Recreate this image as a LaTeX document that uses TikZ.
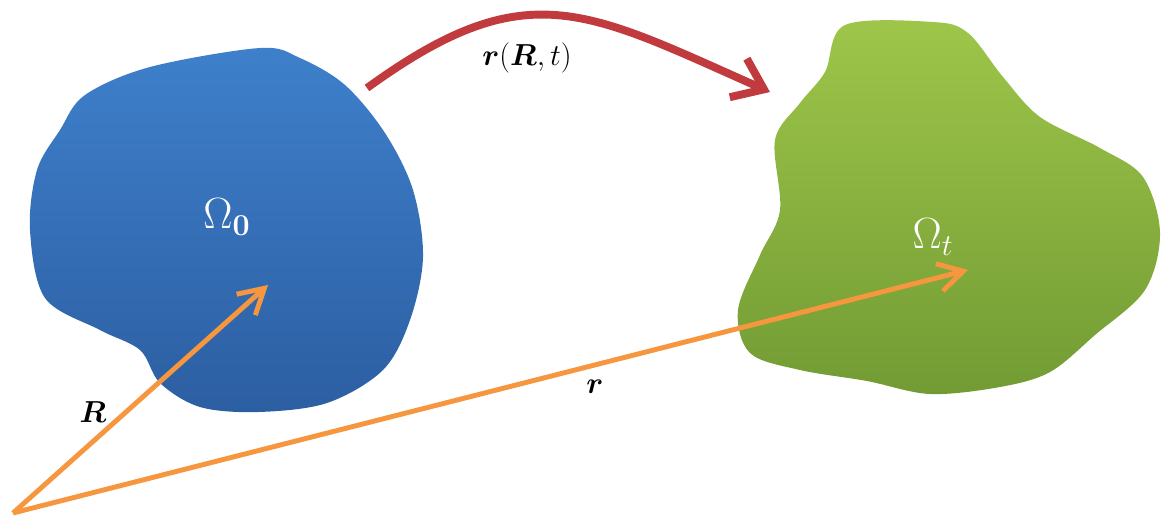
\documentclass[tikz,border=0pt]{standalone}
\usepackage{amsmath,amssymb,bm}
\usepackage{xcolor}
\definecolor{omblue}{RGB}{62,128,203}
\definecolor{omblue2}{RGB}{44,94,162}
\definecolor{omgreen}{RGB}{158,198,74}
\definecolor{omgreen2}{RGB}{114,155,52}
\definecolor{mapred}{RGB}{192,58,62}
\definecolor{vecorange}{RGB}{246,150,62}
\usetikzlibrary{arrows.meta,positioning}

\begin{document}
\begin{tikzpicture}[x=0.02cm,y=-0.02cm,
  vec/.style={-{Straight Barb[length=14pt,width=16pt]},line width=2.8pt,vecorange},
  maparrow/.style={-{Straight Barb[length=16pt,width=24pt]},line width=4.5pt,mapred},
  lbl/.style={font=\fontsize{17.5}{20}\selectfont,inner sep=1pt},
  domlbl/.style={text=white,font=\fontsize{23}{26}\selectfont,inner sep=1pt}]
  \useasboundingbox (0,0) rectangle (1163,522);
  % Reference domain
  \shade[top color=omblue,bottom color=omblue2] plot[smooth cycle,tension=0.55] coordinates {
    (85,95) (150,67) (260,48) (300,58) (345,85) (385,133) (413,190) (423,257)
    (410,320) (383,370) (327,403) (258,412) (200,407) (160,383) (140,350)
    (100,330) (45,298) (30,230) (37,170) (60,130)};
  % Current domain
  \shade[top color=omgreen,bottom color=omgreen2] plot[smooth cycle,tension=0.55] coordinates {
    (845,25) (933,22) (968,33) (1003,77) (1040,117) (1100,148) (1143,177)
    (1160,233) (1145,290) (1095,335) (1050,372) (1000,387) (930,394) (867,381)
    (800,370) (750,353) (738,310) (760,255) (780,210) (775,140) (800,103) (825,72)};
  % Domain labels
  \node[domlbl] (om0) at (227,217) {$\Omega_{\mathbf{0}}$};
  \node[domlbl] (omt) at (933,237) {$\Omega_{t}$};
  % Points
  \coordinate (orig) at (13,513);
  \coordinate (ptR) at (268,285);
  \coordinate (ptr) at (968,270);
  \coordinate (mapfrom) at (367,88);
  \coordinate (mapto) at (770,92);
  % Position vectors
  \draw[vec] (orig) -- (ptR);
  \draw[vec] (orig) -- (ptr);
  \node[lbl] (labR) at (93,412) {$\bm{R}$};
  \node[lbl] (labr) at (595,387) {$\bm{r}$};
  % Motion map
  \draw[maparrow] (mapfrom) .. controls (527,-28) and (585,10) .. (mapto);
  \node[lbl] (labmap) at (527,58) {$\bm{r}(\bm{R},t)$};
\end{tikzpicture}
\end{document}
